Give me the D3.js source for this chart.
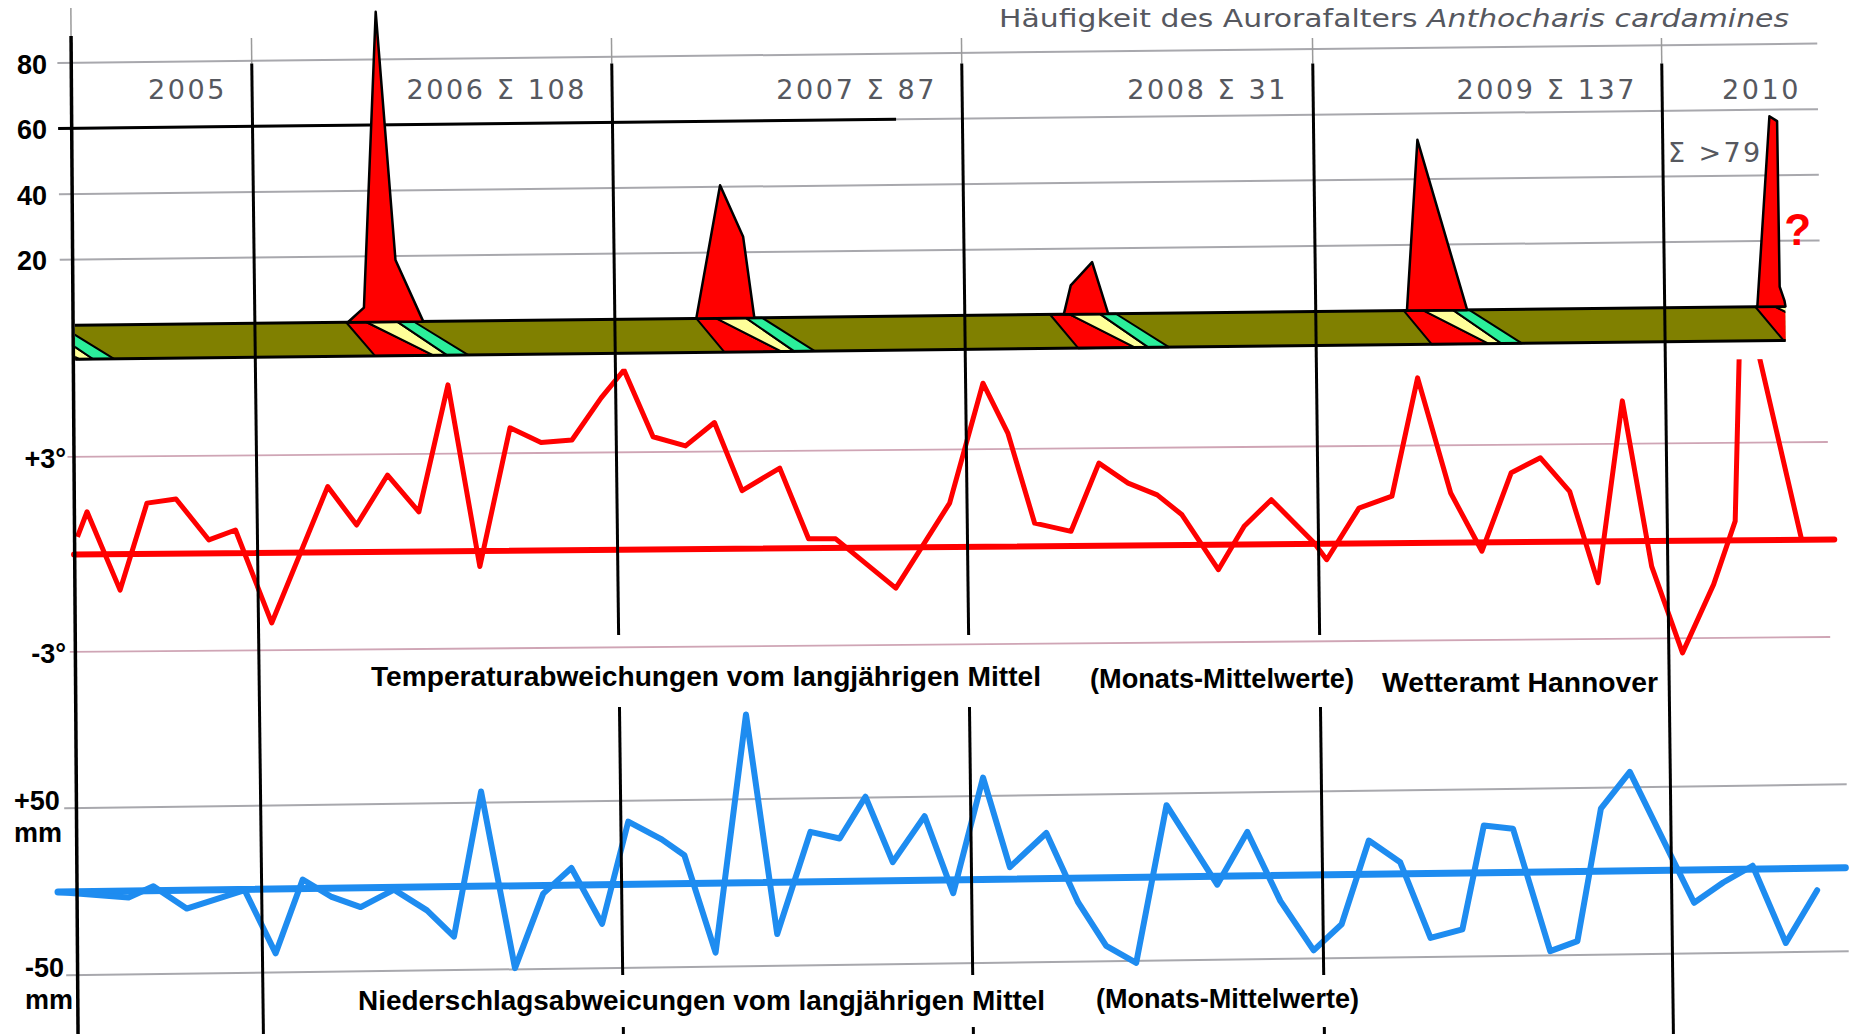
<!DOCTYPE html>
<html><head><meta charset="utf-8">
<script src="https://cdn.jsdelivr.net/npm/d3@7"></script>
<style>html,body{margin:0;padding:0;background:#fff;overflow:hidden}</style>
</head><body>
<svg id="chart" width="1851" height="1034" xmlns="http://www.w3.org/2000/svg"></svg>
<script>
// ---------------- DATA (months counted from Jan 2005 = 0) ----------------
const chartTitle = "Häufigkeit des Aurorafalters ";
const chartTitleItalic = "Anthocharis cardamines";
const years = [2005, 2006, 2007, 2008, 2009, 2010];
const yearStartMonths = [0, 12, 24, 36, 48, 60];
const yearSums = ["", "Σ 108", "Σ 87", "Σ 31", "Σ 137", ""];
const openSum2010 = "Σ >79";
const questionMark = "?";

const countTicks = [20, 40, 60, 80];
const tempTicks = [3, -3];
const tempTickLabels = ["+3°", "-3°"];
const precipTicks = [50, -50];
const precipTickLabels = ["+50", "-50"];
const precipUnit = "mm";

const tempLabelTexts = ["Temperaturabweichungen vom langjährigen Mittel", "(Monats-Mittelwerte)", "Wetteramt Hannover"];
const precipLabelTexts = ["Niederschlagsabweicungen vom langjährigen Mittel", "(Monats-Mittelwerte)"];

// butterfly counts (flight-period peaks)
const peakYears = [2006, 2007, 2008, 2009, 2010];
const peakMonths = [
  [15.10, 15.64, 16.15, 16.71, 17.61],
  [26.79, 27.66, 28.43, 28.78],
  [39.38, 39.63, 40.37, 40.90],
  [51.13, 51.56, 53.20],
  [63.15, 63.64, 63.90, 63.92, 64.08, 64.11]
];
const peakCounts = [
  [0, 4.4, 94.5, 18.8, 0],
  [0, 40.5, 24.7, 0],
  [0, 8.8, 15.8, 0],
  [0, 52, 0],
  [0, 58, 56.5, 6, 1.7, 0]
];
// life-stage bars inside the band (start month per year, stage offsets in months)
const stageStartMonths = [3.24, 15.04, 26.79, 38.91, 51.02, 63.08];
const stageTopOffsets = [0, 0.67, 1.7, 2.25];
const stageBottomOffsets = [0.95, 2.9, 3.35, 4.05];
const observedEndMonth = 64.1;

// monthly temperature deviation (°C)
const tempMonths = [6.0, 6.33, 7.40, 8.33, 9.30, 10.38, 11.27,
  12.44, 14.36, 15.31, 16.36, 17.39, 18.41, 19.40, 20.46, 21.49, 22.52, 23.51,
  24.29, 25.26, 26.37, 27.37, 28.29, 29.59, 30.55, 31.48, 33.52, 35.40,
  36.59, 37.42, 38.30, 39.54, 40.52, 41.51, 42.50, 43.34, 44.56, 45.46, 46.40, 47.85,
  48.27, 49.40, 50.54, 51.47, 52.56, 53.61, 54.65, 55.66, 56.65, 57.59, 58.50, 59.44,
  60.46, 61.55, 62.31, 62.61, 64.56];
const tempValues = [0.54, 1.31, -1.11, 1.56, 1.68, 0.41, 0.71,
  -2.16, 2.02, 0.83, 2.36, 1.22, 5.12, -0.48, 3.78, 3.32, 3.39, 4.68,
  5.53, 3.47, 3.18, 3.89, 1.79, 2.47, 0.29, 0.28, -1.25, 1.35,
  5.03, 3.49, 0.71, 0.45, 2.54, 1.92, 1.55, 0.93, -0.77, 0.56, 1.37, 0.03,
  -0.49, 1.09, 1.45, 5.08, 1.53, -0.27, 2.14, 2.59, 1.55, -1.27, 4.32, -0.78,
  -3.45, -1.35, 0.59, 8.07, 0.03];

// monthly precipitation deviation (mm)
const precipMonths = [5.21, 7.56, 8.39, 9.49, 11.43,
  12.44, 13.37, 14.33, 15.29, 16.41, 17.50, 18.39, 19.35, 20.41, 21.38, 22.33, 23.33,
  24.25, 25.39, 26.16, 27.19, 28.33, 29.31, 30.49, 31.49, 32.39, 33.30, 34.41, 35.36,
  36.43, 37.31, 38.57, 39.63, 40.57, 41.59, 42.69, 44.39, 45.44, 46.54, 47.66,
  48.63, 49.60, 50.67, 51.68, 52.78, 53.56, 54.56, 55.79, 56.73, 57.59, 58.60,
  60.17, 60.75, 61.75, 62.76, 63.86, 64.95];
const precipValues = [0, -3.9, 2.7, -11.0, -0.4,
  -38.5, 5.5, -5.2, -11.5, -1.3, -14.0, -29.9, 56.7, -49.3, -4.9, 10.2, -23.5,
  37.5, 26.6, 16.9, -41.6, 100.7, -31.0, 29.9, 25.7, 50.5, 11.1, 38.4, -8.0,
  61.0, 7.2, 27.3, -14.5, -40.8, -51.1, 43.0, -5.0, 26.3, -15.2, -45.1,
  -29.7, 20.2, 6.9, -38.6, -33.7, 28.3, 26.1, -47.5, -41.7, 37.4, 59.2,
  1.6, -19.7, -7.8, 2.0, -44.5, -13.2];

// ---------------- SCALES ----------------
const x = d3.scaleLinear().domain([6, 12, 24, 36, 48, 60, 66]).range([71, 251, 611, 961, 1312, 1661, 1837]);
const yC = d3.scaleLinear().domain([0, 80]).range([326, 63.5]);
const yT = d3.scaleLinear().domain([-3, 3]).range([652.5, 457.5]);
const yP = d3.scaleLinear().domain([-50, 50]).range([976.1, 809.1]);

// ---------------- STYLE ----------------
const RED = "#ff0000", BLUE = "#1e8cf0", OLIVE = "#808000", YELLOW = "#ffff99", MINT = "#2bef9b";
const GRID = "#a8a8ad", PINK = "#cfa5b5", TXT_GREY = "#56585f";
const SHEAR = 0.012;
const bandBottom = 360;

const svg = d3.select("#chart");
svg.append("rect").attr("width", 1851).attr("height", 1034).attr("fill", "#fff");
const defs = svg.append("defs");
const skewGroup = (s, t = SHEAR) => svg.append("g").attr("transform", `matrix(1,${-s},${t},1,0,0)`);
const hline = (g, m0, m1, y, color, w) => g.append("line")
  .attr("x1", x(m0)).attr("x2", x(m1)).attr("y1", y).attr("y2", y)
  .attr("stroke", color).attr("stroke-width", w);

// ---------------- TOP PANEL: butterfly counts ----------------
const gTop = skewGroup(0.011);
gTop.selectAll("line.grid").data(countTicks).join("line").attr("class", "grid")
  .attr("x1", x(5.52)).attr("x2", x(65.3))
  .attr("y1", d => yC(d)).attr("y2", d => yC(d))
  .attr("stroke", GRID).attr("stroke-width", 2);
hline(gTop, 5.52, 33.72, yC(60), "#000", 3);

defs.append("clipPath").attr("id", "bandClip").append("rect")
  .attr("x", x(6)).attr("y", yC(0) - 2).attr("width", x(observedEndMonth) - x(6)).attr("height", bandBottom - yC(0) + 4);
gTop.append("rect").attr("x", x(6)).attr("y", yC(0))
  .attr("width", x(observedEndMonth) - x(6)).attr("height", bandBottom - yC(0)).attr("fill", OLIVE);

const gStages = gTop.append("g").attr("clip-path", "url(#bandClip)");
const stageColors = [RED, YELLOW, MINT];
stageStartMonths.forEach(s => {
  stageColors.forEach((c, k) => {
    const pts = [
      [x(s + stageTopOffsets[k]), yC(0)], [x(s + stageTopOffsets[k + 1]), yC(0)],
      [x(s + stageBottomOffsets[k + 1]), bandBottom], [x(s + stageBottomOffsets[k]), bandBottom]
    ];
    gStages.append("polygon").attr("points", pts.map(p => p.join(",")).join(" "))
      .attr("fill", c).attr("stroke", "#000").attr("stroke-width", 2).attr("stroke-linejoin", "round");
  });
});
hline(gTop, 6, observedEndMonth, yC(0), "#000", 3);
hline(gTop, 6, observedEndMonth, bandBottom, "#000", 3);

peakYears.forEach((yr, i) => {
  const pts = peakMonths[i].map((m, j) => [x(m), yC(peakCounts[i][j])]);
  gTop.append("polygon").attr("points", pts.map(p => p.join(",")).join(" "))
    .attr("fill", RED).attr("stroke", "#000").attr("stroke-width", 2.5).attr("stroke-linejoin", "round");
});

// ---------------- TEMPERATURE PANEL ----------------
const gTemp = skewGroup(0.0085);
gTemp.selectAll("line.grid").data(tempTicks).join("line").attr("class", "grid")
  .attr("x1", x(5.7)).attr("x2", x(65.5))
  .attr("y1", d => yT(d)).attr("y2", d => yT(d))
  .attr("stroke", PINK).attr("stroke-width", 1.8);
gTemp.append("line").attr("x1", x(5.88)).attr("x2", x(65.68)).attr("y1", yT(0)).attr("y2", yT(0))
  .attr("stroke", RED).attr("stroke-width", 6).attr("stroke-linecap", "round");
defs.append("clipPath").attr("id", "tempClip").append("rect")
  .attr("x", 0).attr("y", 374).attr("width", 1900).attr("height", 400);
const tempLine = d3.line().x((d, i) => x(tempMonths[i])).y(d => yT(d));
gTemp.append("path").attr("clip-path", "url(#tempClip)").attr("d", tempLine(tempValues))
  .attr("fill", "none").attr("stroke", RED).attr("stroke-width", 5)
  .attr("stroke-linejoin", "round").attr("stroke-linecap", "butt");

// ---------------- PRECIPITATION PANEL ----------------
const gPre = skewGroup(0.0135);
gPre.selectAll("line.grid").data(precipTicks).join("line").attr("class", "grid")
  .attr("x1", x(5.45)).attr("x2", x(66.0))
  .attr("y1", d => yP(d)).attr("y2", d => yP(d))
  .attr("stroke", GRID).attr("stroke-width", 2);
gPre.append("line").attr("x1", x(5.21)).attr("x2", x(65.92)).attr("y1", yP(0)).attr("y2", yP(0))
  .attr("stroke", BLUE).attr("stroke-width", 7).attr("stroke-linecap", "round");
const preLine = d3.line().x((d, i) => x(precipMonths[i])).y(d => yP(d));
gPre.append("path").attr("d", preLine(precipValues))
  .attr("fill", "none").attr("stroke", BLUE).attr("stroke-width", 6)
  .attr("stroke-linejoin", "round").attr("stroke-linecap", "round");

// ---------------- YEAR SEPARATORS ----------------
const tempRow = { gapTop: 635, gapBottom: 707, starts: [371, 1090, 1382], ends: [1041, 1354, 1658] };
const preRow = { gapTop: 975, gapBottom: 1027, starts: [358, 1096], ends: [1045, 1359] };
const gSep = svg.append("g").attr("transform", `matrix(1,0,${SHEAR},1,0,0)`);
yearStartMonths.slice(1).forEach(m => {
  const x0 = x(m);
  gSep.append("line").attr("x1", x0).attr("x2", x0).attr("y1", 38).attr("y2", yC(80))
    .attr("stroke", "#9a9a9a").attr("stroke-width", 1.5);
  let segs = [[yC(80), 1034]];
  [tempRow, preRow].forEach(row => {
    const xs = x0 + SHEAR * (row.gapTop + row.gapBottom) / 2;
    const hit = row.starts.some((s, k) => xs > s - 6 && xs < row.ends[k] + 6);
    if (hit) {
      segs = segs.flatMap(([a, b]) => (row.gapTop < b && row.gapBottom > a)
        ? [[a, row.gapTop], [row.gapBottom, b]] : [[a, b]]);
    }
  });
  segs.forEach(([a, b]) => gSep.append("line").attr("x1", x0).attr("x2", x0).attr("y1", a).attr("y2", b)
    .attr("stroke", "#000").attr("stroke-width", 3));
});
// left axis
const gAxis = svg.append("g").attr("transform", "matrix(1,0,0.007,1,0,0)");
gAxis.append("line").attr("x1", 70.8).attr("x2", 70.8).attr("y1", 8).attr("y2", 36).attr("stroke", "#9a9a9a").attr("stroke-width", 1.5);
gAxis.append("line").attr("x1", 70.8).attr("x2", 70.8).attr("y1", 36).attr("y2", 1034).attr("stroke", "#000").attr("stroke-width", 3.5);

// ---------------- TEXT ----------------
const gText = svg.append("g");
const title = gText.append("text").attr("x", 999).attr("y", 27)
  .attr("font-family", "DejaVu Sans").attr("font-size", 25).attr("fill", TXT_GREY)
  .attr("textLength", 790).attr("lengthAdjust", "spacingAndGlyphs");
title.append("tspan").text(chartTitle);
title.append("tspan").attr("font-style", "italic").text(chartTitleItalic);

years.forEach((yr, i) => {
  const label = yearSums[i] ? `${yr} ${yearSums[i]}` : `${yr}`;
  const xEnd = Math.min(x(yearStartMonths[i] + 12), 1825) - 24;
  gText.append("text").attr("x", xEnd).attr("y", 99).attr("text-anchor", "end")
    .attr("font-family", "DejaVu Sans").attr("font-size", 27).attr("letter-spacing", 2.6)
    .attr("fill", TXT_GREY).text(label);
});
gText.append("text").attr("x", x(60) + 7).attr("y", 162)
  .attr("font-family", "DejaVu Sans").attr("font-size", 27).attr("letter-spacing", 2.4)
  .attr("fill", TXT_GREY).text(openSum2010);
gText.append("text").attr("x", x(observedEndMonth) + 3).attr("y", 245)
  .attr("font-family", "Liberation Sans, Arial, sans-serif").attr("font-weight", "bold").attr("font-size", 44)
  .attr("fill", RED).text(questionMark);

const boldFont = "Liberation Sans, Arial, sans-serif";
countTicks.forEach(v => {
  gText.append("text").attr("x", 47).attr("y", yC(v) + 10).attr("text-anchor", "end")
    .attr("font-family", boldFont).attr("font-weight", "bold").attr("font-size", 27).attr("fill", "#000").text(v);
});
tempTicks.forEach((v, i) => {
  gText.append("text").attr("x", 66).attr("y", yT(v) + 10).attr("text-anchor", "end")
    .attr("font-family", boldFont).attr("font-weight", "bold").attr("font-size", 27).attr("fill", "#000").text(tempTickLabels[i]);
});
precipTicks.forEach((v, i) => {
  const x0 = v > 0 ? 14 : 25;
  gText.append("text").attr("x", x0).attr("y", yP(v) + 1)
    .attr("font-family", boldFont).attr("font-weight", "bold").attr("font-size", 27).attr("fill", "#000").text(precipTickLabels[i]);
  gText.append("text").attr("x", x0).attr("y", yP(v) + 33)
    .attr("font-family", boldFont).attr("font-weight", "bold").attr("font-size", 27).attr("fill", "#000").text(precipUnit);
});

const tempBaselines = [686, 688, 692];
tempLabelTexts.forEach((t, i) => {
  gText.append("text").attr("x", tempRow.starts[i]).attr("y", tempBaselines[i])
    .attr("font-family", boldFont).attr("font-weight", "bold").attr("font-size", 28).attr("fill", "#000")
    .attr("textLength", tempRow.ends[i] - tempRow.starts[i]).attr("lengthAdjust", "spacingAndGlyphs").text(t);
});
const preBaselines = [1010, 1008];
precipLabelTexts.forEach((t, i) => {
  gText.append("text").attr("x", preRow.starts[i]).attr("y", preBaselines[i])
    .attr("font-family", boldFont).attr("font-weight", "bold").attr("font-size", 28).attr("fill", "#000")
    .attr("textLength", preRow.ends[i] - preRow.starts[i]).attr("lengthAdjust", "spacingAndGlyphs").text(t);
});
</script>
</body></html>
